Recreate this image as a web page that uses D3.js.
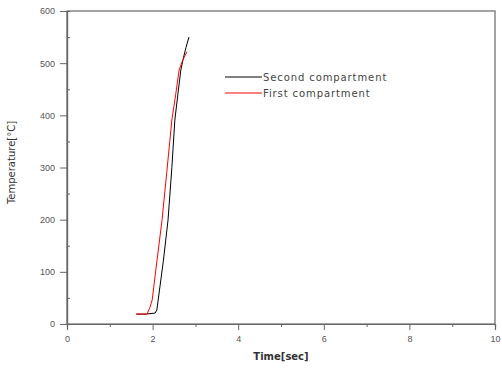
<!DOCTYPE html>
<html>
<head>
<meta charset="utf-8">
<script src="https://d3js.org/d3.v7.min.js"></script>
<style>
  body { margin: 0; background: #fff; }
  svg { display: block; font-family: "DejaVu Sans", sans-serif; }
</style>
</head>
<body>
<svg id="chart" width="502" height="376"></svg>
<script>
// series
var secondTime = [1.62, 1.85, 2.06, 2.10, 2.13, 2.25, 2.36, 2.45, 2.52, 2.59, 2.66, 2.72, 2.78, 2.85];
var secondTemp = [19, 19, 21, 27, 46, 120, 199, 300, 391, 440, 487, 510, 530, 550];
var firstTime = [1.62, 1.87, 1.93, 1.99, 2.10, 2.22, 2.33, 2.45, 2.54, 2.62, 2.70, 2.76, 2.80];
var firstTemp = [19, 19, 30, 46, 120, 199, 290, 391, 440, 487, 505, 515, 522];
var seriesNames = ["Second compartment", "First compartment"];
var seriesColors = ["#000000", "#ff0000"];
var xTicks = [0, 2, 4, 6, 8, 10];
var yTicks = [0, 100, 200, 300, 400, 500, 600];

var svg = d3.select("#chart");
var margin = {top: 11, right: 7, bottom: 52, left: 67};
var width = +svg.attr("width") - margin.left - margin.right,
    height = +svg.attr("height") - margin.top - margin.bottom;

var xscale = d3.scaleLinear().domain([0, 10]).range([0, width]);
var yscale = d3.scaleLinear().domain([0, 600]).range([height, 0]);

var g = svg.append("g")
    .attr("transform", "translate(" + margin.left + "," + margin.top + ")");

var axisColor = "#666";
var textColor = "#555";

// frame
g.append("rect")
    .attr("x", 0).attr("y", 0)
    .attr("width", width).attr("height", height)
    .attr("fill", "none")
    .attr("stroke", axisColor)
    .attr("stroke-width", 1.2);

// x axis
g.append("g")
    .attr("transform", "translate(0," + height + ")")
    .call(d3.axisBottom(xscale).tickValues(xTicks).tickSize(6).tickPadding(6));
// minor x ticks
g.append("g")
    .attr("transform", "translate(0," + height + ")")
    .call(d3.axisBottom(xscale).tickValues([1, 3, 5, 7, 9]).tickSize(3).tickFormat(""));

// y axis
g.append("g")
    .call(d3.axisLeft(yscale).tickValues(yTicks).tickSize(7).tickPadding(5));
g.append("g")
    .call(d3.axisLeft(yscale).tickValues([50, 150, 250, 350, 450, 550]).tickSize(-3).tickFormat(""));

g.selectAll(".domain").attr("stroke", axisColor).attr("stroke-width", 1.2);
g.selectAll(".tick line").attr("stroke", axisColor);
g.selectAll(".tick text").attr("fill", textColor).style("font-size", "9px");

// lines
var line = d3.line()
    .x(function(d) { return xscale(d[0]); })
    .y(function(d) { return yscale(d[1]); });

var series = [d3.zip(secondTime, secondTemp), d3.zip(firstTime, firstTemp)];

g.selectAll("path.graph_path")
    .data(series)
    .enter()
    .append("path")
    .classed("graph_path", true)
    .attr("d", line)
    .attr("fill", "none")
    .attr("stroke", function(d, i) { return seriesColors[i]; })
    .attr("stroke-width", 1);

// legend
var legend = svg.append("g").attr("transform", "translate(225,77)");
seriesNames.forEach(function(name, i) {
    legend.append("line")
        .attr("x1", 0).attr("x2", 37)
        .attr("y1", i * 16).attr("y2", i * 16)
        .attr("stroke", seriesColors[i])
        .attr("stroke-width", 1);
    legend.append("text")
        .attr("x", 38).attr("y", i * 16 + 3.5)
        .attr("fill", "#444")
        .style("font-size", "10px")
        .style("letter-spacing", "0.9px")
        .text(name);
});

// axis titles
svg.append("text")
    .attr("x", margin.left + width / 2)
    .attr("y", 360)
    .attr("text-anchor", "middle")
    .attr("fill", "#333")
    .style("font-size", "10px")
    .style("font-weight", "bold")
    .text("Time[sec]");

svg.append("text")
    .attr("transform", "translate(15," + (margin.top + height / 2 - 5) + ") rotate(-90)")
    .attr("text-anchor", "middle")
    .attr("fill", "#333")
    .style("font-size", "10px")
    .text("Temperature[°C]");
</script>
</body>
</html>
